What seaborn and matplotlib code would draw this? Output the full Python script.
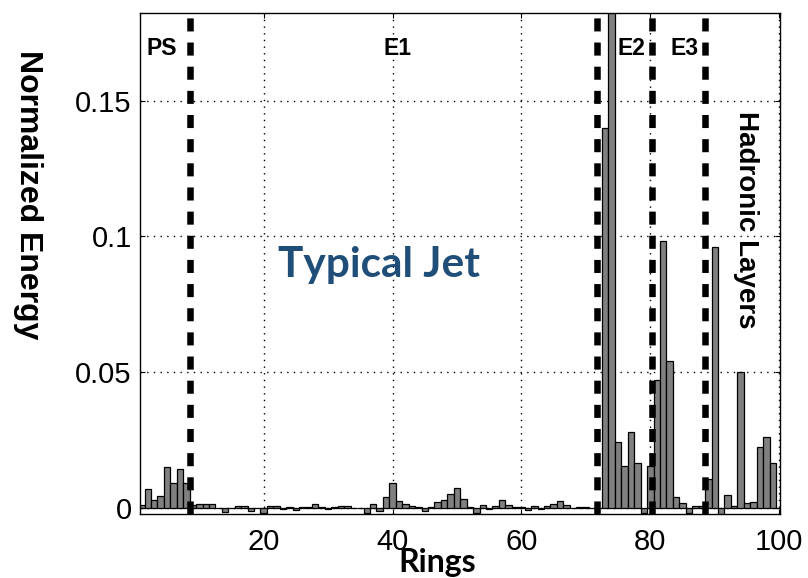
import matplotlib
matplotlib.use("Agg")
import matplotlib.pyplot as plt
import pandas as pd
import seaborn as sns

# Normalized energy deposited per ring (rings 1..100)
rings = list(range(1, 101))
energy = [
    0.0010, 0.0069, 0.0029, 0.0044, 0.0152, 0.0091, 0.0143, 0.0091, 0.0010, 0.0013,
    0.0013, 0.0013, 0.0000, -0.0015, 0.0000, 0.0007, 0.0007, -0.0012, 0.0000, -0.0018,
    0.0006, 0.0006, -0.0005, 0.0005, -0.0008, 0.0005, 0.0005, 0.0016, 0.0003, -0.0005,
    0.0002, 0.0006, 0.0006, 0.0000, 0.0000, -0.0018, 0.0015, -0.0011, 0.0039, 0.0091,
    0.0027, 0.0014, 0.0009, 0.0002, -0.0011, 0.0002, 0.0021, 0.0030, 0.0053, 0.0073,
    0.0033, 0.0002, -0.0018, 0.0011, -0.0005, 0.0007, 0.0030, 0.0011, 0.0002, 0.0002,
    -0.0007, 0.0006, -0.0002, 0.0006, 0.0015, 0.0026, 0.0011, 0.0000, 0.0002, 0.0002,
    0.0000, 0.0000, 0.1400, 0.2000, 0.0242, 0.0155, 0.0279, 0.0167, -0.0017, 0.0155,
    0.0473, 0.0982, 0.0540, 0.0039, 0.0020, -0.0017, 0.0006, 0.0006, 0.0108, 0.0960,
    -0.0028, 0.0047, 0.0007, 0.0500, 0.0019, 0.0024, 0.0225, 0.0262, 0.0165, 0.0000,
]

# Detector section boundaries and their labels
boundaries = [8.5, 71.8, 80.25, 88.5]
section_names = ["PS", "E1", "E2", "E3"]
section_x = [4.1, 40.8, 77.0, 85.3]
section_y = 0.1693

x_ticks = [20, 40, 60, 80, 100]
y_ticks = [0, 0.05, 0.1, 0.15]
y_tick_labels = ["0", "0.05", "0.1", "0.15"]

sns.set_theme(style="white")
plt.rcParams["font.family"] = ["Liberation Sans", "DejaVu Sans"]

W, H = 808, 578
fig = plt.figure(figsize=(W / 100, H / 100), dpi=100)
ax = fig.add_axes([140 / W, 64 / H, 640.5 / W, 501 / H])

df = pd.DataFrame({"ring": rings, "energy": energy})
sns.barplot(
    data=df, x="ring", y="energy", native_scale=True, width=1.0,
    color="#808080", saturation=1, edgecolor="black", linewidth=0.9,
    errorbar=None, ax=ax, zorder=2,
)

for b in boundaries:
    ax.axvline(b, color="black", lw=4.7, linestyle=(0, (2.0, 1.7)), zorder=4)

ax.set_xlim(0.8, 100.2)
ax.set_ylim(-0.0022, 0.1823)
ax.set_xticks(x_ticks)
ax.set_xticklabels([str(t) for t in x_ticks])
ax.set_yticks(y_ticks)
ax.set_yticklabels(y_tick_labels)
ax.set_xlabel("")
ax.set_ylabel("")

ax.set_axisbelow(True)
ax.grid(True, color="black", lw=1.0, linestyle=(0, (1, 3.8)))
for s in ax.spines.values():
    s.set_color("black")
    s.set_linewidth(1.0)
    s.set_visible(True)

ax.tick_params(axis="both", direction="in", length=3.6, width=0.8,
               top=True, right=True, bottom=True, left=True,
               labelsize=21, colors="black")
ax.tick_params(axis="x", pad=10)
ax.tick_params(axis="y", pad=6)

for name, xs in zip(section_names, section_x):
    ax.text(xs, section_y, name, ha="center", va="center",
            fontsize=16.5, fontweight="bold", color="black", zorder=5)

ax.text(94.8, 0.106, "Hadronic Layers", rotation=-90, ha="center", va="center",
        fontsize=20, fontweight="bold", color="black", zorder=5)

ax.text(37.96, 0.0896, "Typical Jet", ha="center", va="center",
        fontsize=30.5, fontweight="bold", color="#1F4E79",
        family=["Lato", "DejaVu Sans"], zorder=5)

fig.text(28 / W, 1 - 195 / H, "Normalized Energy", rotation=-90,
         ha="center", va="center", fontsize=23, fontweight="bold", color="black")
fig.text(437 / W, 1 - 577 / H, "Rings", ha="center", va="bottom",
         fontsize=23, fontweight="bold", color="black",
         family=["Lato", "DejaVu Sans"])

fig.savefig("out.png", dpi=100, facecolor="white")
